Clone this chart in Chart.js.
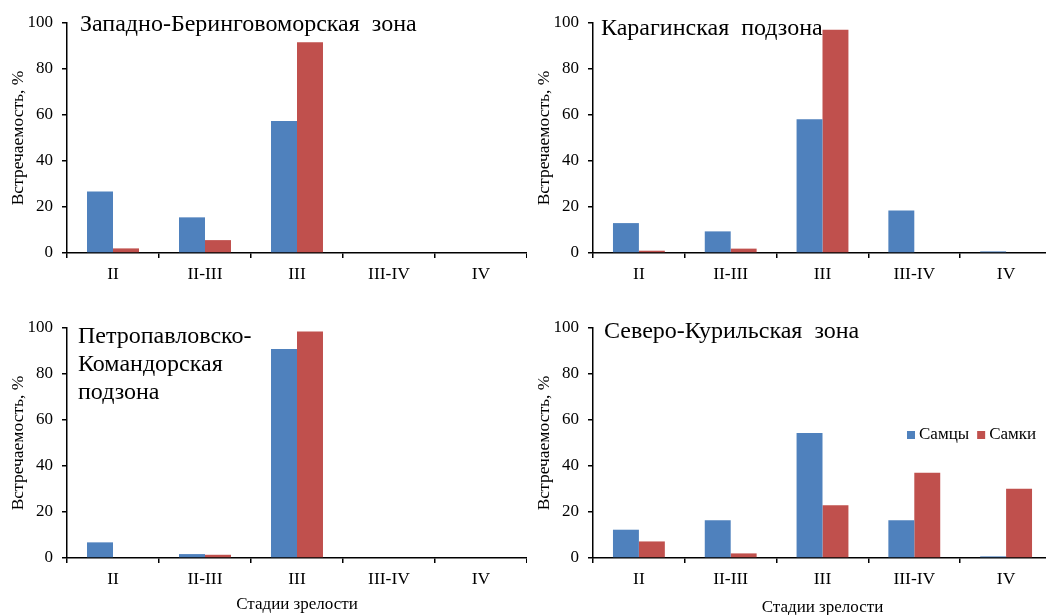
<!DOCTYPE html>
<html>
<head>
<meta charset="utf-8">
<script src="https://cdn.jsdelivr.net/npm/chart.js@4.4.0/dist/chart.umd.min.js"></script>
<style>
  body { margin: 0; background: #fff; width: 1046px; height: 615px; overflow: hidden; position: relative; }
  canvas { position: absolute; }
</style>
</head>
<body>
<canvas id="c1" width="527" height="300" style="left:0;top:0"></canvas>
<canvas id="c2" width="532" height="300" style="left:520px;top:0"></canvas>
<canvas id="c3" width="527" height="320" style="left:0;top:300px"></canvas>
<canvas id="c4" width="532" height="320" style="left:520px;top:300px"></canvas>
<script>
// stages of maturity on the x axis
const stages = ["II", "II-III", "III", "III-IV", "IV"];
const seriesNames = ["Самцы", "Самки"];
const yTicks = [0, 20, 40, 60, 80, 100];

// percentages
const westBeringMales = [26.7, 15.5, 57.4, 0, 0];
const westBeringFemales = [2.0, 5.6, 91.6, 0, 0];
const karaginMales = [13.0, 9.4, 58.2, 18.5, 0.7];
const karaginFemales = [1.0, 1.9, 97.1, 0, 0];
const petroMales = [6.8, 1.7, 90.9, 0, 0];
const petroFemales = [0, 1.4, 98.5, 0, 0];
const kurilMales = [12.3, 16.4, 54.3, 16.4, 0.7];
const kurilFemales = [7.2, 2.0, 22.9, 37.1, 30.1];

const titleWestBering = ["Западно-Беринговоморская  зона"];
const titleKaragin = ["Карагинская  подзона"];
const titlePetro = ["Петропавловско-", "Командорская", "подзона"];
const titleKuril = ["Северо-Курильская  зона"];

const yTitle = "Встречаемость, %";
const xTitle = "Стадии зрелости";

const blue = "#4F81BD";
const red = "#C0504D";
const serif = "'Liberation Serif', 'Times New Roman', serif";

// text written inside the plot (panel names)
const panelTitle = {
  id: "panelTitle",
  afterDraw(chart, args, opts) {
    if (!opts.lines) return;
    const ctx = chart.ctx;
    ctx.save();
    ctx.fillStyle = "#000";
    ctx.font = "24px " + serif;
    ctx.textBaseline = "middle";
    ctx.textAlign = "left";
    opts.lines.forEach((t, i) => ctx.fillText(t, opts.x, opts.y + i * opts.lineHeight));
    ctx.restore();
  }
};

// small legend placed inside the plot
const insideLegend = {
  id: "insideLegend",
  afterDraw(chart, args, opts) {
    if (!opts.show) return;
    const ctx = chart.ctx;
    ctx.save();
    ctx.font = "17px " + serif;
    ctx.textBaseline = "middle";
    let x = opts.x;
    chart.data.datasets.forEach(ds => {
      ctx.fillStyle = ds.backgroundColor;
      ctx.fillRect(x, opts.y - 4, 8, 8);
      x += 12;
      ctx.fillStyle = "#000";
      ctx.fillText(ds.label, x, opts.y);
      x += ctx.measureText(ds.label).width + 8;
    });
    ctx.restore();
  }
};

function makeChart(id, title, males, females, o) {
  return new Chart(document.getElementById(id), {
    type: "bar",
    plugins: [panelTitle, insideLegend],
    data: {
      labels: stages,
      datasets: [
        { label: seriesNames[0], data: males, backgroundColor: blue },
        { label: seriesNames[1], data: females, backgroundColor: red }
      ]
    },
    options: {
      responsive: false,
      animation: false,
      layout: { padding: { top: o.padTop, left: 0, right: 0, bottom: 0 } },
      datasets: { bar: { categoryPercentage: 0.565, barPercentage: 1 } },
      plugins: {
        legend: { display: false },
        tooltip: { enabled: false },
        panelTitle: { lines: title, x: o.tx, y: o.ty, lineHeight: 27.8 },
        insideLegend: { show: !!o.legend, x: 387, y: 135 }
      },
      scales: {
        x: {
          afterFit: s => { s.height = o.xH; },
          grid: { offset: true, drawOnChartArea: false, tickLength: 5, color: "#000", lineWidth: 1.5 },
          border: { color: "#000", width: 1.5 },
          ticks: { color: "#000", padding: 6, font: { family: serif, size: 17.5 } },
          title: {
            display: !!o.xTitle, text: xTitle, color: "#000",
            font: { family: serif, size: 17 }, padding: { top: 0, bottom: o.xTitlePad || 0 }
          }
        },
        y: {
          min: 0, max: 100,
          afterFit: s => { s.width = o.yW; },
          afterBuildTicks: s => { s.ticks = yTicks.map(v => ({ value: v })); },
          grid: { drawOnChartArea: false, tickLength: 5, color: "#000", lineWidth: 1.5 },
          border: { color: "#000", width: 1.5 },
          ticks: { color: "#000", padding: 9, font: { family: serif, size: 17 } },
          title: {
            display: true, text: yTitle, color: "#000",
            font: { family: serif, size: 17.5 }, padding: { top: o.yTitlePad, bottom: 0 }
          }
        }
      }
    }
  });
}

makeChart("c1", titleWestBering, westBeringMales, westBeringFemales,
  { padTop: 23, xH: 47, yW: 67, yTitlePad: 8, tx: 80, ty: 25 });
makeChart("c2", titleKaragin, karaginMales, karaginFemales,
  { padTop: 23, xH: 47, yW: 73, yTitlePad: 13.5, tx: 81, ty: 29 });
makeChart("c3", titlePetro, petroMales, petroFemales,
  { padTop: 28, xH: 62, yW: 67, yTitlePad: 8, tx: 78, ty: 37, xTitle: true, xTitlePad: 4.8 });
makeChart("c4", titleKuril, kurilMales, kurilFemales,
  { padTop: 28, xH: 62, yW: 73, yTitlePad: 13.5, tx: 84, ty: 32, xTitle: true, xTitlePad: 1.8, legend: true });
</script>
</body>
</html>
